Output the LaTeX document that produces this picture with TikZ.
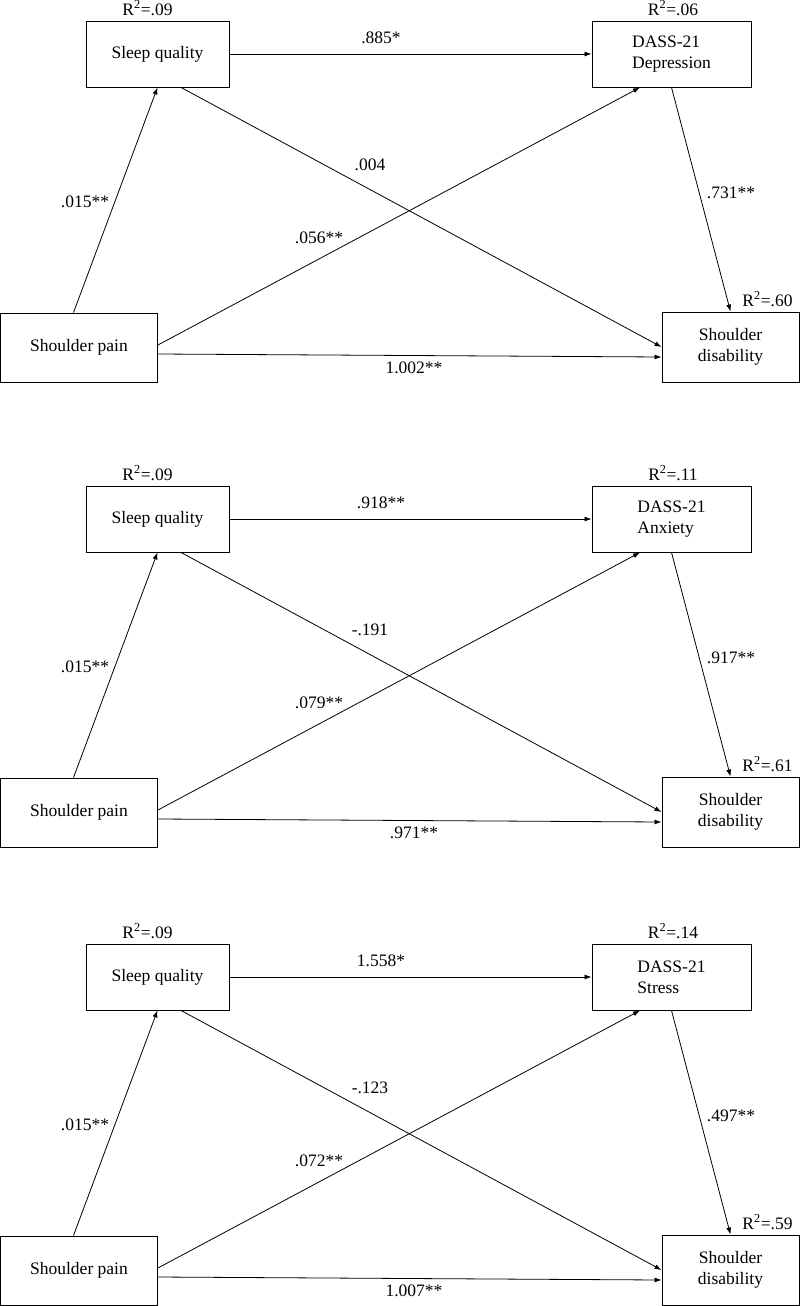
\documentclass[tikz,border=0pt]{standalone}
\usepackage{fontspec}
\setmainfont{Liberation Serif}
\usetikzlibrary{arrows.meta}

\begin{document}
\begin{tikzpicture}[x=1pt,y=-1pt,
  every node/.style={font=\fontsize{17.5}{21}\selectfont},
  box/.style={draw,line width=0.9pt,inner sep=0pt},
  effect/.style={-{Latex[length=7pt,width=5pt]},line width=0.8pt}]
\useasboundingbox (0,0) rectangle (800,1306);
% one panel per DASS-21 subscale
\foreach \oy/\med/\rmed/\rdis/\bPS/\bSM/\bSD/\bPM/\bMD/\bPD in {
  0/Depression/.06/.60/.015**/.885*/.004/.056**/.731**/1.002**,
  465/Anxiety/.11/.61/.015**/.918**/-.191/.079**/.917**/.971**,
  923/Stress/.14/.59/.015**/1.558*/-.123/.072**/.497**/1.007**}{
\begin{scope}[yshift=-\oy pt]
% variables
\node[box,minimum width=143pt,minimum height=66pt] (sleep) at (157.5,54) {Sleep quality};
\node[box,minimum width=159pt,minimum height=66pt,align=left] (dass) at (671.5,54) {DASS-21\\\med};
\node[box,minimum width=157pt,minimum height=69pt] (pain) at (79,347.5) {Shoulder pain};
\node[box,minimum width=137pt,minimum height=70pt,align=center] (dis) at (730.5,347) {Shoulder\\disability};
% explained variance
\node (rsleep) at (147.5,8) {R\textsuperscript{2}=.09};
\node (rdass) at (673,8) {R\textsuperscript{2}=\rmed};
\node (rdis) at (767.5,299) {R\textsuperscript{2}=\rdis};
% paths
\draw[effect] ([xshift=-5.5pt]pain.north) -- (sleep.south);
\draw[effect] (sleep.east) -- (dass.west);
\draw[effect] ([xshift=23.5pt]sleep.south) -- (dis.west);
\draw[effect] ([yshift=2.5pt]pain.east) -- ([xshift=-31.5pt]dass.south);
\draw[effect] (dass.south) -- (dis.north);
\draw[effect] ([yshift=-6.5pt]pain.east) -- ([yshift=-10pt]dis.west);
% coefficients
\node (cps) at (85,202) {\bPS};
\node (csm) at (381,38) {\bSM};
\node (csd) at (370,165) {\bSD};
\node (cpm) at (319,238) {\bPM};
\node (cmd) at (731,193) {\bMD};
\node (cpd) at (414,368) {\bPD};
\end{scope}
}
\end{tikzpicture}
\end{document}
